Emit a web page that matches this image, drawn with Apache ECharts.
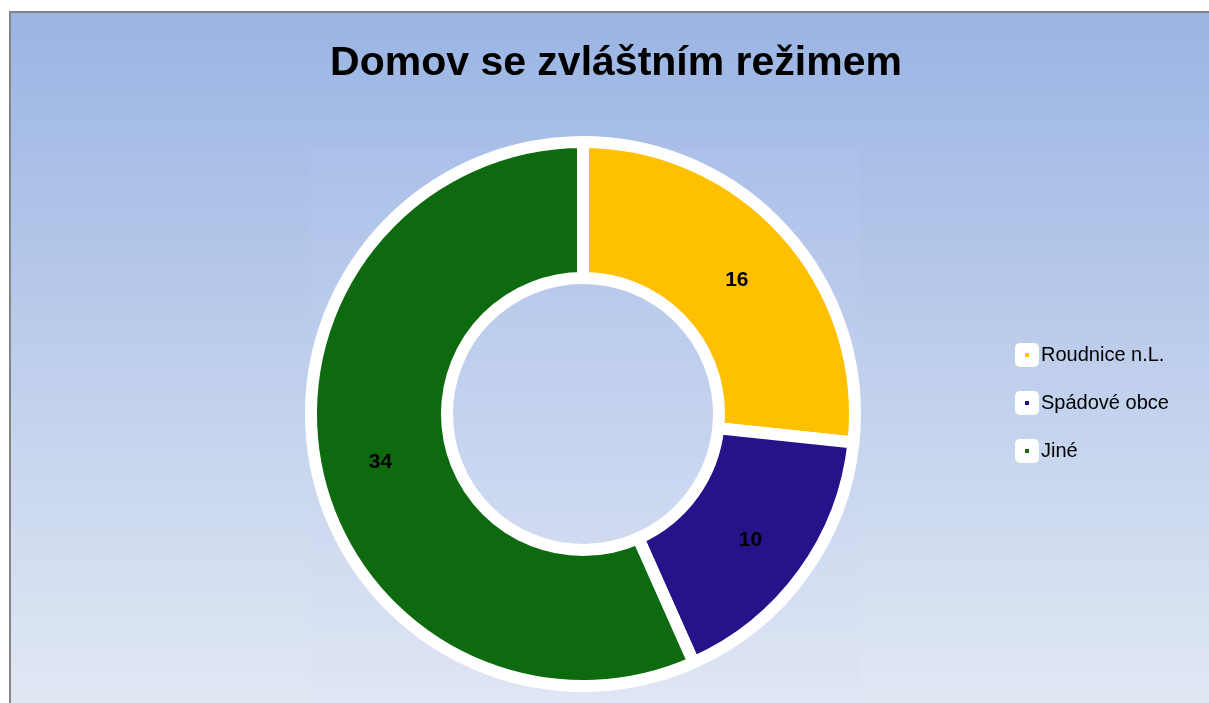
<!DOCTYPE html>
<html>
<head>
<meta charset="utf-8">
<script src="https://cdn.jsdelivr.net/npm/echarts@6/dist/echarts.min.js"></script>
<style>
	html, body { margin: 0; padding: 0; background: #fff; }
	#chart { width: 1209px; height: 703px; }
</style>
</head>
<body>
<div id="chart"></div>
<script>
// 数据
var categories = ['Roudnice n.L.', 'Spádové obce', 'Jiné'];
var values = [16, 10, 34];
var colors = ['#FFC000', '#25138A', '#0E6A0E'];

(function () {
	var myChart = echarts.init(document.getElementById('chart'));
	var pieData = categories.map(function (name, i) {
		return { name: name, value: values[i], itemStyle: { color: colors[i] } };
	});
	var option = {
		animation: false,
		// 背景渐变 + 边框
		graphic: [
			{
				type: 'rect',
				silent: true,
				z: -10,
				shape: { x: 9, y: 11, width: 1200, height: 692 },
				style: {
					fill: new echarts.graphic.LinearGradient(0, 0, 0, 1, [
						{ offset: 0, color: '#9AB4E3' },
						{ offset: 1, color: '#E1E8F4' }
					])
				}
			},
			{
				type: 'rect',
				silent: true,
				z: -9,
				shape: { x: 310, y: 146, width: 550, height: 557 },
				style: {
					fill: new echarts.graphic.LinearGradient(0, 0, 0, 1, [
						{ offset: 0, color: '#ABC0E9' },
						{ offset: 1, color: '#DFE6F4' }
					])
				}
			},
			{
				type: 'polyline',
				silent: true,
				z: -8,
				shape: { points: [[10, 703], [10, 12], [1209, 12]] },
				style: { stroke: '#858585', lineWidth: 2, fill: null }
			}
		],
		title: {
			text: 'Domov se zvláštním režimem',
			left: 611,
			textAlign: 'center',
			top: 38,
			textStyle: {
				fontFamily: 'Liberation Sans',
				fontWeight: 'bold',
				fontSize: 41,
				color: '#000'
			}
		},
		legend: {
			orient: 'vertical',
			left: 1010,
			top: 338,
			itemWidth: 14,
			itemHeight: 14,
			itemGap: 24,
			icon: 'rect',
			itemStyle: {
				borderColor: '#fff',
				borderWidth: 10,
				borderJoin: 'round'
			},
			textStyle: {
				fontFamily: 'Liberation Sans',
				fontSize: 20,
				color: '#000',
				padding: [0, 0, 0, 2]
			},
			data: categories
		},
		series: [{
			type: 'pie',
			center: [583, 414],
			radius: [136, 272],
			startAngle: 90,
			clockwise: true,
			avoidLabelOverlap: false,
			itemStyle: {
				borderColor: '#fff',
				borderWidth: 12,
				borderJoin: 'round'
			},
			label: {
				show: true,
				position: 'inside',
				formatter: '{c}',
				color: '#000',
				fontFamily: 'Liberation Sans',
				fontWeight: 'bold',
				fontSize: 21,
				offset: [0, 5]
			},
			labelLine: { show: false },
			emphasis: { disabled: true },
			data: pieData
		}]
	};
	myChart.setOption(option);
	window.addEventListener('resize', function () {
		myChart.resize();
	});
})();
</script>
</body>
</html>
